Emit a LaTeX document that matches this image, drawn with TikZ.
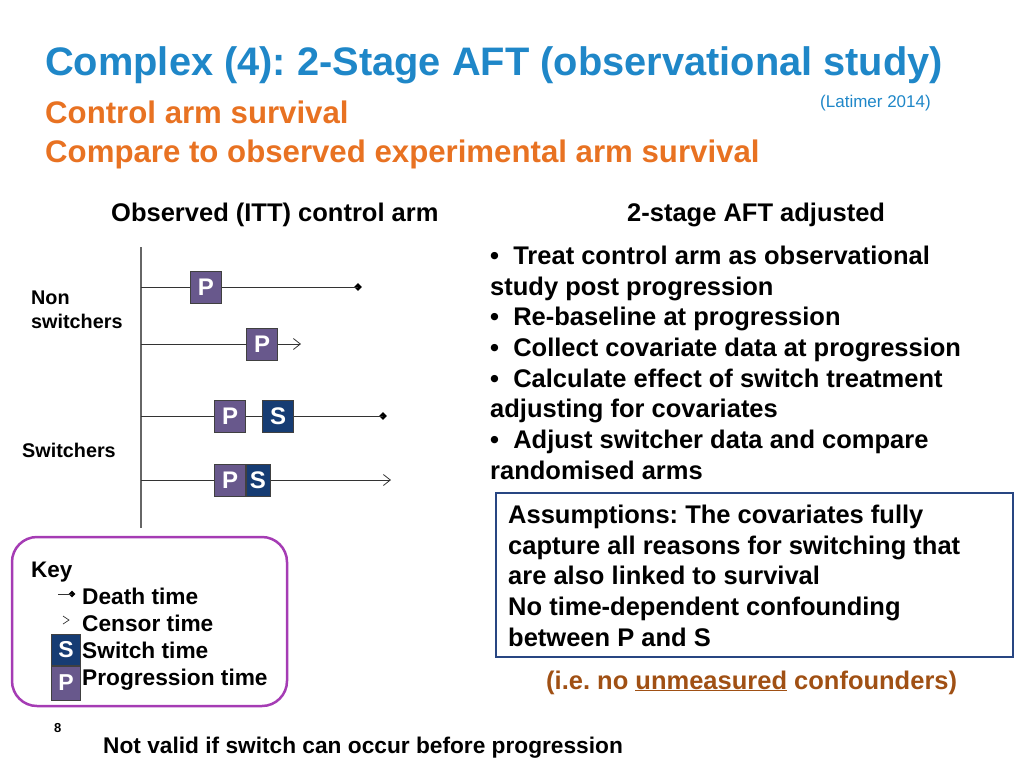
\documentclass[tikz,border=0pt]{standalone}
\usepackage{fontspec}
\setmainfont{Liberation Sans}
\usetikzlibrary{arrows.meta,shapes.geometric}
\definecolor{titleblue}{RGB}{31,135,200}
\definecolor{subor}{RGB}{232,114,34}
\definecolor{pboxc}{RGB}{104,88,140}
\definecolor{sboxc}{RGB}{22,60,115}
\definecolor{keyc}{RGB}{165,60,180}
\definecolor{assumc}{RGB}{40,70,130}
\definecolor{brownc}{RGB}{160,80,20}
\newcommand{\fsz}[1]{\fontsize{#1}{#1}\selectfont}
\frenchspacing
\tikzset{
  txt/.style={anchor=base west, inner sep=0pt, font=\bfseries\fsz{#1}},
  txt/.default=25.5,
  pbox/.style={draw=black!75, fill=pboxc, text=white, font=\bfseries\fsz{24}, minimum width=31pt, minimum height=32pt, inner sep=0pt},
  sbox/.style={pbox, fill=sboxc},
  tl/.style={draw=black!80, line width=0.9pt},
  dmark/.style={diamond, fill=black, minimum size=8pt, inner sep=0pt},
  cens/.style={-{Straight Barb[length=7pt,width=11pt,line width=0.8pt]}},
}
\begin{document}
\begin{tikzpicture}[x=1pt,y=-1pt]
\useasboundingbox (0,0) rectangle (1024,768);
% title
\node[txt=39.8, text=titleblue] (title) at (45,75) {Complex (4): 2-Stage AFT (observational study)};
\node[txt=17, font=\fsz{17}, text=titleblue] (ref) at (820,107) {(Latimer 2014)};
\node[txt=31.2, text=subor] (sub1) at (45,123) {Control arm survival};
\node[txt=31.2, text=subor] (sub2) at (45,162) {Compare to observed experimental arm survival};
% headings
\node[txt=25.5] (h1) at (111,221) {Observed (ITT) control arm};
\node[txt=25.5] (h2) at (627,221) {2-stage AFT adjusted};
% bullets
\node[txt] (b1) at (490,264) {\textbullet\ \ Treat control arm as observational};
\node[txt] (b1b) at (490,295) {study post progression};
\node[txt] (b2) at (490,325) {\textbullet\ \ Re-baseline at progression};
\node[txt] (b3) at (490,356) {\textbullet\ \ Collect covariate data at progression};
\node[txt] (b4) at (490,387) {\textbullet\ \ Calculate effect of switch treatment};
\node[txt] (b4b) at (490,417) {adjusting for covariates};
\node[txt] (b5) at (490,448) {\textbullet\ \ Adjust switcher data and compare};
\node[txt] (b5b) at (490,479) {randomised arms};
% assumptions box
\draw[draw=assumc, line width=2pt] (496,493) rectangle (1013,657);
\node[txt] (a1) at (508,523) {Assumptions: The covariates fully};
\node[txt] (a2) at (508,554) {capture all reasons for switching that};
\node[txt] (a3) at (508,584) {are also linked to survival};
\node[txt] (a4) at (508,615) {No time-dependent confounding};
\node[txt] (a5) at (508,646) {between P and S};
\node[txt, text=brownc] (ie) at (546,689) {(i.e. no \underline{unmeasured} confounders)};
% left diagram
\coordinate (vt) at (141,247);
\coordinate (vb) at (141,528);
\draw[draw=black!60, line width=2pt] (vt) -- (vb);
\node[txt=19.8] (non1) at (31,304) {Non};
\node[txt=19.8] (non2) at (31,328) {switchers};
\node[txt=19.8] (sw) at (22,457) {Switchers};
% line 1
\coordinate (s1) at (141,287);
\node[dmark] (d1) at (358,287) {};
\draw[tl] (s1) -- (d1.center);
\node[pbox] (p1) at (206,287) {P};
% line 2
\coordinate (s2) at (141,344);
\coordinate (e2) at (301,344);
\draw[tl, cens] (s2) -- (e2);
\node[pbox] (p2) at (262,344) {P};
% line 3
\coordinate (s3) at (141,416);
\node[dmark] (d3) at (383,416) {};
\draw[tl] (s3) -- (d3.center);
\node[pbox] (p3) at (230,416) {P};
\node[sbox] (q3) at (278,416) {S};
% line 4
\coordinate (s4) at (141,480);
\coordinate (e4) at (391,480);
\draw[tl, cens] (s4) -- (e4);
\node[pbox] (p4) at (230,480) {P};
\node[sbox, minimum width=24pt, anchor=west] (q4) at (p4.east) {S};
% key
\draw[draw=keyc, line width=2.5pt, rounded corners=25pt] (12,537) rectangle (287,706);
\node[txt=22.5] (key) at (31,577) {Key};
\coordinate (kd0) at (58,594);
\node[dmark, minimum size=7pt] (kd) at (72,594) {};
\draw[tl] (kd0) -- (kd.center);
\coordinate (kc0) at (63,616);
\coordinate (kc1) at (69,620);
\draw[line width=0.7pt, black!80] (kc0) -- (kc1) -- ++(-6,4);
\node[sbox, minimum width=29pt, minimum height=31pt, font=\bfseries\fsz{23}] (ks) at (66,650) {S};
\node[pbox, minimum width=29pt, minimum height=34pt, font=\bfseries\fsz{23}] (kp) at (66,683) {P};
\node[txt=22.7] (k1) at (82,604) {Death time};
\node[txt=22.7] (k2) at (82,631) {Censor time};
\node[txt=22.7] (k3) at (82,658) {Switch time};
\node[txt=22.7] (k4) at (82,685) {Progression time};
% footer
\node[txt=13] (pg) at (54,732) {8};
\node[txt=22.7] (nv) at (103,753) {Not valid if switch can occur before progression};
\end{tikzpicture}
\end{document}
